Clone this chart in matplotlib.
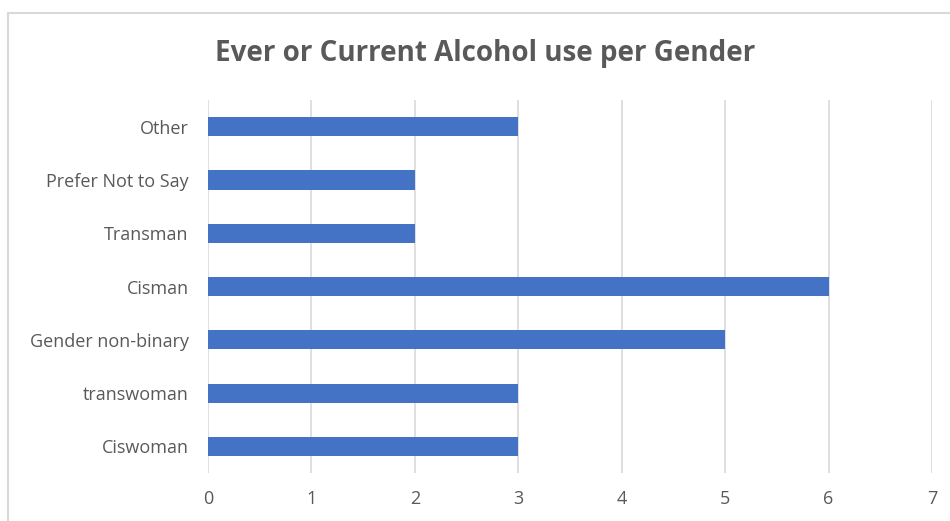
import matplotlib.pyplot as plt
from matplotlib.patches import Rectangle

plt.rcParams['font.family'] = ['Open Sans', 'DejaVu Sans']

# data, bottom to top
genders = ['Ciswoman', 'transwoman', 'Gender non-binary', 'Cisman',
           'Transman', 'Prefer Not to Say', 'Other']
counts = [3, 3, 5, 6, 2, 2, 3]

text_color = '#595959'
grid_color = '#D9D9D9'

fig = plt.figure(figsize=(9.5, 5.21), dpi=100)
ax = fig.add_axes([0.219, 0.092, 0.762, 0.716])

ax.barh(genders, counts, height=0.36, color='#4472C4', zorder=3)

ax.set_xlim(0, 7)
ax.set_ylim(-0.5, len(genders) - 0.5)
ax.set_xticks(range(0, 8))
ax.grid(axis='x', color=grid_color, linewidth=1.2, zorder=0)
ax.grid(axis='y', visible=False)
for s in ax.spines.values():
    s.set_visible(False)
ax.tick_params(axis='both', length=0, colors=text_color, labelsize=13)
ax.tick_params(axis='x', pad=12)
ax.tick_params(axis='y', pad=14)

fig.text(0.511, 0.898, 'Ever or Current Alcohol use per Gender',
         ha='center', va='center', fontsize=20, fontweight='bold', color=text_color)

# chart frame
fig.patches.append(Rectangle((8 / 950, -0.1), 2, 0.1 + (521 - 13) / 521,
                             transform=fig.transFigure, fill=False,
                             edgecolor=grid_color, linewidth=1.5))

plt.savefig('out.png', dpi=100)
